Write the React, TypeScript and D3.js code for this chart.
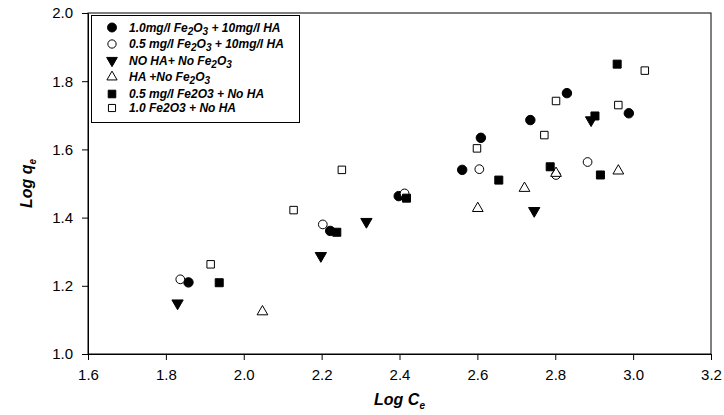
import { useEffect, useRef } from 'react'
import * as d3 from 'd3'

// axis ticks
const xTicks = [1.6, 1.8, 2.0, 2.2, 2.4, 2.6, 2.8, 3.0, 3.2]
const yTicks = [1.0, 1.2, 1.4, 1.6, 1.8, 2.0]

// 1.0mg/l Fe2O3 + 10mg/l HA (filled circle)
const fe10HaX = [1.858, 2.222, 2.398, 2.561, 2.609, 2.736, 2.83, 2.989]
const fe10HaY = [1.21, 1.361, 1.463, 1.54, 1.634, 1.686, 1.765, 1.706]

// 0.5 mg/l Fe2O3 + 10mg/l HA (open circle)
const fe05HaX = [1.837, 2.203, 2.413, 2.605, 2.802, 2.883]
const fe05HaY = [1.219, 1.38, 1.471, 1.542, 1.525, 1.563]

// NO HA + No Fe2O3 (filled triangle down)
const blankX = [1.83, 2.198, 2.315, 2.746, 2.892]
const blankY = [1.149, 1.288, 1.388, 1.42, 1.686]

// HA + No Fe2O3 (open triangle up)
const haOnlyX = [2.048, 2.601, 2.721, 2.802, 2.962]
const haOnlyY = [1.124, 1.427, 1.486, 1.53, 1.537]

// 0.5 mg/l Fe2O3 + No HA (filled square)
const fe05X = [1.937, 2.239, 2.418, 2.655, 2.787, 2.902, 2.916, 2.959]
const fe05Y = [1.209, 1.357, 1.457, 1.51, 1.549, 1.698, 1.525, 1.85]

// 1.0 Fe2O3 + No HA (open square)
const fe10X = [1.915, 2.128, 2.252, 2.599, 2.772, 2.802, 2.962, 3.03]
const fe10Y = [1.263, 1.422, 1.54, 1.603, 1.642, 1.742, 1.73, 1.831]

const legendLabels = [
  '1.0mg/l Fe_2O_3 + 10mg/l HA',
  '0.5 mg/l Fe_2O_3 + 10mg/l HA',
  'NO HA+ No Fe_2O_3',
  'HA +No Fe_2O_3',
  '0.5 mg/l Fe2O3 + No HA',
  '1.0 Fe2O3 + No HA',
]

const FONT = 'Arial, "Liberation Sans", sans-serif'

export default function App() {
  const ref = useRef<SVGSVGElement>(null)

  useEffect(() => {
    const svg = d3.select(ref.current)
    svg.selectAll('*').remove()

    const left = 88, right = 711, top = 13, bottom = 354

    const x = d3.scaleLinear().domain([1.6, 3.2]).range([left, right])
    const y = d3.scaleLinear().domain([1.0, 2.0]).range([bottom, top])
    const fmt = d3.format('.1f')

    const series = [
      { xs: fe10HaX, ys: fe10HaY, type: d3.symbolCircle, size: 70, filled: true, rot: 0 },
      { xs: fe05HaX, ys: fe05HaY, type: d3.symbolCircle, size: 60, filled: false, rot: 0 },
      { xs: blankX, ys: blankY, type: d3.symbolTriangle, size: 55, filled: true, rot: 180 },
      { xs: haOnlyX, ys: haOnlyY, type: d3.symbolTriangle, size: 50, filled: false, rot: 0 },
      { xs: fe05X, ys: fe05Y, type: d3.symbolSquare, size: 64, filled: true, rot: 0 },
      { xs: fe10X, ys: fe10Y, type: d3.symbolSquare, size: 56, filled: false, rot: 0 },
    ]

    // frame
    svg.append('rect')
      .attr('x', left).attr('y', top)
      .attr('width', right - left).attr('height', bottom - top)
      .attr('fill', 'none').attr('stroke', '#000').attr('stroke-width', 1)

    const xAxis = svg.append('g')
      .attr('transform', `translate(0,${bottom})`)
      .call(d3.axisBottom(x).tickValues(xTicks).tickFormat(d => fmt(d as number)).tickSize(6).tickSizeOuter(0).tickPadding(9))
    const yAxis = svg.append('g')
      .attr('transform', `translate(${left},0)`)
      .call(d3.axisLeft(y).tickValues(yTicks).tickFormat(d => fmt(d as number)).tickSize(6).tickSizeOuter(0).tickPadding(9))

    for (const ax of [xAxis, yAxis]) {
      ax.selectAll('text').attr('font-family', FONT).attr('font-size', 15).attr('fill', '#000')
      ax.selectAll('line').attr('stroke', '#000')
      ax.select('.domain').attr('stroke', '#000')
    }

    // points
    series.forEach(s => {
      const path = d3.symbol().type(s.type).size(s.size)()
      svg.append('g').selectAll('path')
        .data(s.xs.map((v, i) => [v, s.ys[i]]))
        .enter().append('path')
        .attr('d', path)
        .attr('transform', d => `translate(${x(d[0])},${y(d[1])}) rotate(${s.rot})`)
        .attr('fill', s.filled ? '#000' : '#fff')
        .attr('stroke', '#000')
        .attr('stroke-width', 1)
    })

    // legend
    const legend = svg.append('g')
    legend.append('rect')
      .attr('x', 91.5).attr('y', 15.5).attr('width', 208).attr('height', 107)
      .attr('fill', '#fff').attr('stroke', '#000')
    const rowY = [27.5, 44, 60.5, 77, 94, 108]
    legendLabels.forEach((lab, i) => {
      const s = series[i]
      legend.append('path')
        .attr('d', d3.symbol().type(s.type).size(s.size * 0.9)())
        .attr('transform', `translate(112,${rowY[i]}) rotate(${s.rot})`)
        .attr('fill', s.filled ? '#000' : '#fff')
        .attr('stroke', '#000')
      const t = legend.append('text')
        .attr('x', 129).attr('y', rowY[i] + 4)
        .attr('font-family', FONT).attr('font-size', 12)
        .attr('font-weight', 'bold').attr('font-style', 'italic')
      let shift = 0
      lab.split(/(_\d)/).filter(p => p.length).forEach(p => {
        if (p.startsWith('_')) {
          t.append('tspan').attr('dy', 3 - shift).attr('font-size', 10).text(p.slice(1))
          shift = 3
        } else {
          t.append('tspan').attr('dy', -shift).text(p)
          shift = 0
        }
      })
    })

    // axis titles
    const xt = svg.append('text')
      .attr('x', (left + right) / 2).attr('y', 405)
      .attr('text-anchor', 'middle')
      .attr('font-family', FONT).attr('font-size', 16)
      .attr('font-weight', 'bold').attr('font-style', 'italic')
    xt.append('tspan').text('Log C')
    xt.append('tspan').attr('dy', 4).attr('font-size', 10).text('e')

    const yt = svg.append('text')
      .attr('transform', `translate(32,${(top + bottom) / 2}) rotate(-90)`)
      .attr('text-anchor', 'middle')
      .attr('font-family', FONT).attr('font-size', 16)
      .attr('font-weight', 'bold').attr('font-style', 'italic')
    yt.append('tspan').text('Log q')
    yt.append('tspan').attr('dy', 4).attr('font-size', 10).text('e')
  }, [])

  return (
    <svg ref={ref} width={724} height={415}
      style={{ position: 'absolute', left: 0, top: 0, background: '#fff' }} />
  )
}
